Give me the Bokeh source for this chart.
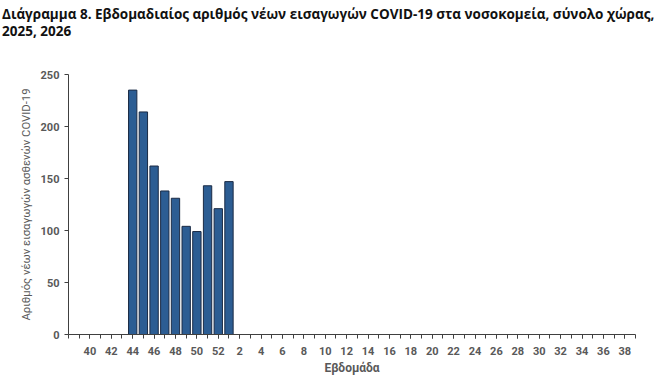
from bokeh.plotting import figure
from bokeh.models import Range1d, FixedTicker, Div
from bokeh.layouts import column
from bokeh.embed import file_html
from bokeh.resources import INLINE

# ---- data ----
weeks_2025 = list(range(38, 53))          # weeks 38..52 of 2025
weeks_2026 = list(range(1, 40))           # weeks 1..39 of 2026
bar_weeks = ["2025-44", "2025-45", "2025-46", "2025-47", "2025-48",
             "2025-49", "2025-50", "2025-51", "2025-52", "2026-1"]
admissions = [235, 214, 162, 138, 131, 104, 99, 143, 121, 147]
y_ticks = [0, 50, 100, 150, 200, 250]
title_lines = ["Διάγραμμα 8. Εβδομαδιαίος αριθμός νέων εισαγωγών COVID-19 στα νοσοκομεία, σύνολο χώρας,",
               "2025, 2026"]

# category keys in order along the axis
keys = [f"2025-{w}" for w in weeks_2025] + [f"2026-{w}" for w in weeks_2026]
week_nums = weeks_2025 + weeks_2026
pos = {k: i for i, k in enumerate(keys)}
bar_x = [pos[k] for k in bar_weeks]

title = Div(text="<br>".join(title_lines), width=653, height=44, margin=(0, 0, 0, 0),
            styles={"font-family": "Open Sans", "font-size": "13.5px", "font-weight": "bold",
                    "color": "#111111", "line-height": "17px", "padding-top": "6px",
                    "padding-left": "2px", "white-space": "nowrap"})

p = figure(width=653, height=333, output_backend="svg", toolbar_location=None,
           x_range=Range1d(0, len(keys) - 1), y_range=Range1d(0, 250),
           min_border_left=68, min_border_right=18, min_border_top=30,
           min_border_bottom=10, margin=(0, 0, 0, 0))

p.vbar(x=bar_x, top=admissions, width=0.78, fill_color="#2C5D93",
       line_color="#1B2B45", line_width=1)

p.grid.visible = False
p.outline_line_color = None
p.background_fill_color = "white"
p.border_fill_color = "white"

major = [i for i in range(len(keys)) if i % 2 == 0 and 2 <= i <= 52]
p.xaxis.ticker = FixedTicker(ticks=major, minor_ticks=list(range(len(keys))))
p.xaxis.major_label_overrides = {i: str(week_nums[i]) for i in major}
p.xaxis.axis_label = "Εβδομάδα"
p.yaxis.ticker = FixedTicker(ticks=y_ticks)
p.yaxis.axis_label = "Αριθμός νέων εισαγωγών ασθενών COVID-19"

for ax in (p.xaxis[0], p.yaxis[0]):
    ax.axis_line_color = "#404040"
    ax.major_tick_line_color = "#404040"
    ax.minor_tick_line_color = "#404040"
    ax.major_tick_in = 0
    ax.major_tick_out = 4
    ax.minor_tick_in = 0
    ax.minor_tick_out = 4
    ax.major_label_text_font = "Roboto"
    ax.major_label_text_font_size = "11px"
    ax.major_label_text_color = "#595959"
    ax.major_label_text_font_style = "bold"
    ax.axis_label_text_font = "Roboto"
    ax.axis_label_text_color = "#595959"
p.xaxis.axis_label_text_font_size = "12px"
p.xaxis.axis_label_text_font_style = "bold"
p.yaxis.axis_label_text_font_size = "11.3px"
p.yaxis.axis_label_text_font_style = "normal"
p.yaxis.minor_tick_out = 0
p.xaxis.major_label_standoff = 8
p.xaxis.axis_label_standoff = 3
p.yaxis.major_label_standoff = 5
p.yaxis.axis_label_standoff = 5

layout = column(title, p, spacing=0)
open("out.html", "w").write(file_html(layout, INLINE))
